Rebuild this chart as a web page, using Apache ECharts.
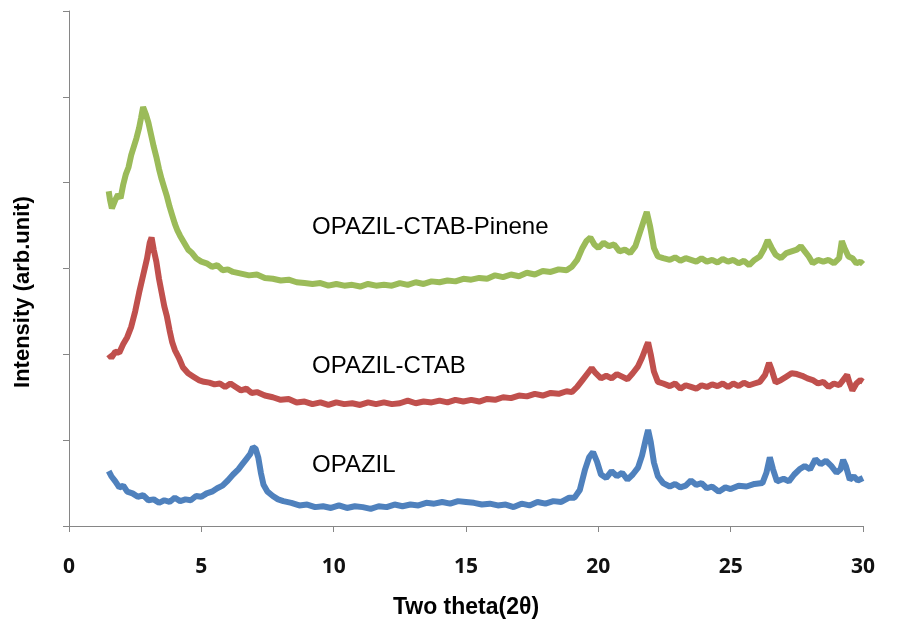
<!DOCTYPE html>
<html>
<head>
<meta charset="utf-8">
<script src="https://cdn.jsdelivr.net/npm/echarts@6/dist/echarts.min.js"></script>
<style>
  html, body {margin: 0; padding: 0; background: #fff;}
  #chart {width: 901px; height: 623px;}
</style>
</head>
<body>
<div id="chart"></div>
<script>
// x ticks (2 theta), y is arbitrary intensity with 6 unlabelled ticks
const xTicks = [0, 5, 10, 15, 20, 25, 30];
const seriesNames = ['OPAZIL', 'OPAZIL-CTAB', 'OPAZIL-CTAB-Pinene'];

const opazil = [
  [1.5,0.64],[1.6,0.58],[1.75,0.52],[1.9,0.45],[2.05,0.47],[2.2,0.40],[2.4,0.38],[2.6,0.34],[2.8,0.36],[3.0,0.30],
  [3.2,0.31],[3.4,0.27],[3.6,0.30],[3.8,0.28],[4.0,0.33],[4.2,0.29],[4.4,0.31],[4.6,0.30],[4.8,0.35],[5.0,0.34],
  [5.2,0.38],[5.4,0.40],[5.6,0.44],[5.8,0.47],[6.0,0.53],[6.2,0.60],[6.4,0.66],[6.55,0.72],[6.7,0.78],[6.85,0.84],
  [6.95,0.92],[7.05,0.90],[7.15,0.80],[7.25,0.62],[7.35,0.48],[7.5,0.40],[7.7,0.35],[7.9,0.31],[8.1,0.29],[8.4,0.27],
  [8.7,0.24],[9.0,0.25],[9.3,0.22],[9.6,0.23],[9.9,0.21],[10.2,0.24],[10.5,0.21],[10.8,0.23],[11.1,0.22],[11.4,0.20],
  [11.7,0.23],[12.0,0.22],[12.3,0.25],[12.6,0.23],[12.9,0.25],[13.2,0.24],[13.5,0.27],[13.8,0.26],[14.1,0.28],[14.4,0.26],
  [14.7,0.29],[15.0,0.28],[15.3,0.27],[15.6,0.25],[15.9,0.26],[16.2,0.24],[16.5,0.25],[16.8,0.22],[17.1,0.26],[17.4,0.24],
  [17.7,0.28],[18.0,0.26],[18.3,0.29],[18.6,0.28],[18.9,0.33],[19.1,0.33],[19.3,0.42],[19.5,0.66],[19.65,0.80],[19.8,0.86],
  [19.95,0.75],[20.1,0.60],[20.3,0.56],[20.5,0.64],[20.7,0.58],[20.9,0.62],[21.1,0.54],[21.3,0.60],[21.5,0.68],[21.65,0.82],
  [21.8,1.02],[21.88,1.12],[21.98,0.98],[22.1,0.74],[22.25,0.58],[22.45,0.50],[22.7,0.46],[22.9,0.49],[23.1,0.45],[23.3,0.47],
  [23.5,0.53],[23.7,0.48],[23.9,0.50],[24.1,0.44],[24.3,0.46],[24.55,0.40],[24.8,0.45],[25.0,0.43],[25.3,0.47],[25.6,0.46],
  [25.9,0.49],[26.2,0.50],[26.35,0.62],[26.48,0.80],[26.6,0.66],[26.75,0.52],[27.0,0.55],[27.2,0.52],[27.4,0.60],[27.6,0.66],
  [27.8,0.70],[28.0,0.66],[28.2,0.78],[28.4,0.72],[28.6,0.76],[28.8,0.70],[29.0,0.62],[29.15,0.66],[29.25,0.77],[29.35,0.70],
  [29.5,0.54],[29.65,0.58],[29.8,0.53],[30.0,0.56]
];

const opazilCtab = [
  [1.5,2.00],[1.6,1.96],[1.75,2.03],[1.9,2.02],[2.05,2.12],[2.2,2.20],[2.35,2.32],[2.5,2.50],[2.65,2.72],[2.8,2.92],
  [2.95,3.12],[3.05,3.30],[3.12,3.36],[3.2,3.22],[3.3,3.08],[3.4,2.88],[3.5,2.72],[3.6,2.56],[3.7,2.44],[3.8,2.28],
  [3.9,2.14],[4.0,2.05],[4.15,1.96],[4.3,1.85],[4.5,1.78],[4.7,1.74],[4.9,1.70],[5.1,1.68],[5.3,1.67],[5.5,1.65],
  [5.7,1.66],[5.9,1.62],[6.1,1.66],[6.3,1.62],[6.5,1.58],[6.7,1.60],[6.9,1.55],[7.1,1.56],[7.4,1.52],[7.7,1.50],
  [8.0,1.47],[8.3,1.48],[8.6,1.44],[8.9,1.45],[9.2,1.42],[9.5,1.44],[9.8,1.41],[10.1,1.44],[10.4,1.42],[10.7,1.43],
  [11.0,1.41],[11.3,1.44],[11.6,1.42],[11.9,1.44],[12.2,1.42],[12.5,1.43],[12.8,1.46],[13.1,1.43],[13.4,1.45],[13.7,1.44],
  [14.0,1.46],[14.3,1.44],[14.6,1.47],[14.9,1.45],[15.2,1.47],[15.5,1.45],[15.8,1.48],[16.1,1.47],[16.4,1.50],[16.7,1.49],
  [17.0,1.52],[17.3,1.51],[17.6,1.54],[17.9,1.52],[18.2,1.55],[18.5,1.54],[18.8,1.57],[19.0,1.56],[19.2,1.62],[19.4,1.70],
  [19.6,1.78],[19.75,1.84],[19.9,1.78],[20.1,1.72],[20.3,1.75],[20.5,1.72],[20.7,1.77],[20.9,1.74],[21.1,1.71],[21.3,1.78],
  [21.5,1.86],[21.65,1.96],[21.8,2.08],[21.88,2.14],[21.98,2.00],[22.1,1.80],[22.25,1.68],[22.45,1.66],[22.7,1.63],[22.9,1.66],
  [23.1,1.60],[23.3,1.64],[23.5,1.62],[23.7,1.60],[23.9,1.64],[24.1,1.62],[24.3,1.65],[24.5,1.63],[24.7,1.66],[24.9,1.62],
  [25.1,1.66],[25.3,1.63],[25.5,1.67],[25.7,1.64],[25.9,1.66],[26.1,1.68],[26.3,1.76],[26.45,1.90],[26.55,1.82],[26.7,1.67],
  [26.9,1.70],[27.1,1.74],[27.3,1.78],[27.5,1.77],[27.7,1.75],[27.9,1.72],[28.1,1.70],[28.3,1.66],[28.5,1.68],[28.7,1.62],
  [28.9,1.66],[29.1,1.64],[29.3,1.72],[29.4,1.76],[29.5,1.66],[29.6,1.58],[29.75,1.66],[29.9,1.70],[30.0,1.68]
];

const opazilCtabPinene = [
  [1.5,3.90],[1.55,3.80],[1.62,3.70],[1.75,3.80],[1.85,3.86],[1.95,3.82],[2.05,3.98],[2.15,4.10],[2.25,4.18],[2.35,4.32],
  [2.45,4.42],[2.55,4.52],[2.65,4.64],[2.72,4.75],[2.8,4.88],[2.9,4.80],[3.0,4.70],[3.1,4.56],[3.2,4.42],[3.3,4.30],
  [3.4,4.16],[3.5,4.04],[3.6,3.94],[3.7,3.84],[3.8,3.72],[3.9,3.62],[4.0,3.52],[4.1,3.44],[4.2,3.38],[4.35,3.30],
  [4.5,3.22],[4.65,3.18],[4.8,3.12],[5.0,3.08],[5.2,3.06],[5.4,3.02],[5.6,3.04],[5.8,2.98],[6.0,2.99],[6.2,2.96],
  [6.5,2.94],[6.8,2.92],[7.1,2.93],[7.4,2.89],[7.7,2.88],[8.0,2.86],[8.3,2.87],[8.6,2.84],[8.9,2.83],[9.2,2.82],
  [9.5,2.83],[9.8,2.80],[10.1,2.82],[10.4,2.80],[10.7,2.81],[11.0,2.79],[11.3,2.82],[11.6,2.80],[11.9,2.81],[12.2,2.80],
  [12.5,2.83],[12.8,2.81],[13.1,2.84],[13.4,2.82],[13.7,2.85],[14.0,2.84],[14.3,2.86],[14.6,2.85],[14.9,2.88],[15.2,2.87],
  [15.5,2.89],[15.8,2.88],[16.1,2.92],[16.4,2.90],[16.7,2.93],[17.0,2.91],[17.3,2.95],[17.6,2.93],[17.9,2.97],[18.2,2.96],
  [18.5,2.99],[18.8,2.98],[19.0,3.02],[19.2,3.10],[19.4,3.24],[19.55,3.32],[19.7,3.36],[19.85,3.28],[20.0,3.24],[20.2,3.30],
  [20.4,3.26],[20.6,3.28],[20.8,3.20],[21.0,3.22],[21.2,3.18],[21.4,3.26],[21.55,3.40],[21.7,3.54],[21.83,3.66],[21.95,3.50],
  [22.1,3.24],[22.25,3.14],[22.45,3.12],[22.7,3.10],[22.9,3.13],[23.1,3.09],[23.3,3.12],[23.5,3.10],[23.7,3.08],[23.9,3.12],
  [24.1,3.08],[24.3,3.10],[24.5,3.07],[24.7,3.11],[24.9,3.08],[25.1,3.10],[25.3,3.06],[25.5,3.09],[25.7,3.04],[25.9,3.10],
  [26.1,3.14],[26.25,3.22],[26.4,3.33],[26.55,3.24],[26.7,3.16],[26.9,3.12],[27.1,3.18],[27.3,3.20],[27.5,3.22],[27.65,3.26],
  [27.8,3.20],[27.95,3.14],[28.1,3.06],[28.3,3.10],[28.5,3.08],[28.7,3.10],[28.9,3.06],[29.1,3.12],[29.2,3.32],[29.3,3.24],
  [29.45,3.14],[29.6,3.12],[29.75,3.06],[29.9,3.08],[30.0,3.05]
];

const colors = ['#4F81BD', '#C0504D', '#9BBB59'];
const allData = [opazil, opazilCtab, opazilCtabPinene];

const chart = echarts.init(document.getElementById('chart'));

const labelFont = '24px "Liberation Sans"';

const option = {
  animation: false,
  grid: {left: 69, right: 38, top: 11, bottom: 97, containLabel: false, outerBoundsMode: 'none'},
  xAxis: {
    type: 'value',
    min: xTicks[0],
    max: xTicks[xTicks.length - 1],
    interval: 5,
    name: 'Two theta(2θ)',
    nameLocation: 'middle',
    nameGap: 70,
    nameTextStyle: {fontFamily: 'Liberation Sans', fontWeight: 'bold', fontSize: 23, color: '#000'},
    axisLine: {lineStyle: {color: '#868686', width: 1}},
    axisTick: {show: true, inside: false, length: 6, lineStyle: {color: '#868686'}},
    axisLabel: {fontFamily: 'Noto Sans', fontWeight: 'bold', fontSize: 21, color: '#111', margin: 31},
    splitLine: {show: false}
  },
  yAxis: {
    type: 'value',
    min: 0,
    max: 6,
    interval: 1,
    axisLine: {show: true, lineStyle: {color: '#868686', width: 1}},
    axisTick: {show: true, inside: false, length: 6, lineStyle: {color: '#868686'}},
    axisLabel: {show: false},
    splitLine: {show: false}
  },
  series: allData.map((d, i) => ({
    name: seriesNames[i],
    type: 'line',
    data: d,
    showSymbol: false,
    lineStyle: {color: colors[i], width: 6},
    itemStyle: {color: colors[i]}
  })),
  graphic: [
    {
      type: 'text', x: 23, y: 292, rotation: Math.PI / 2,
      style: {text: 'Intensity (arb.unit)', font: 'bold 22px "Liberation Sans"', fill: '#000', align: 'center', verticalAlign: 'middle'}
    },
    {type: 'text', x: 312, y: 227, style: {text: 'OPAZIL-CTAB-Pinene', font: labelFont, fill: '#000', verticalAlign: 'middle'}},
    {type: 'text', x: 312, y: 366, style: {text: 'OPAZIL-CTAB', font: labelFont, fill: '#000', verticalAlign: 'middle'}},
    {type: 'text', x: 312, y: 465, style: {text: 'OPAZIL', font: labelFont, fill: '#000', verticalAlign: 'middle'}}
  ]
};

chart.setOption(option);
</script>
</body>
</html>
